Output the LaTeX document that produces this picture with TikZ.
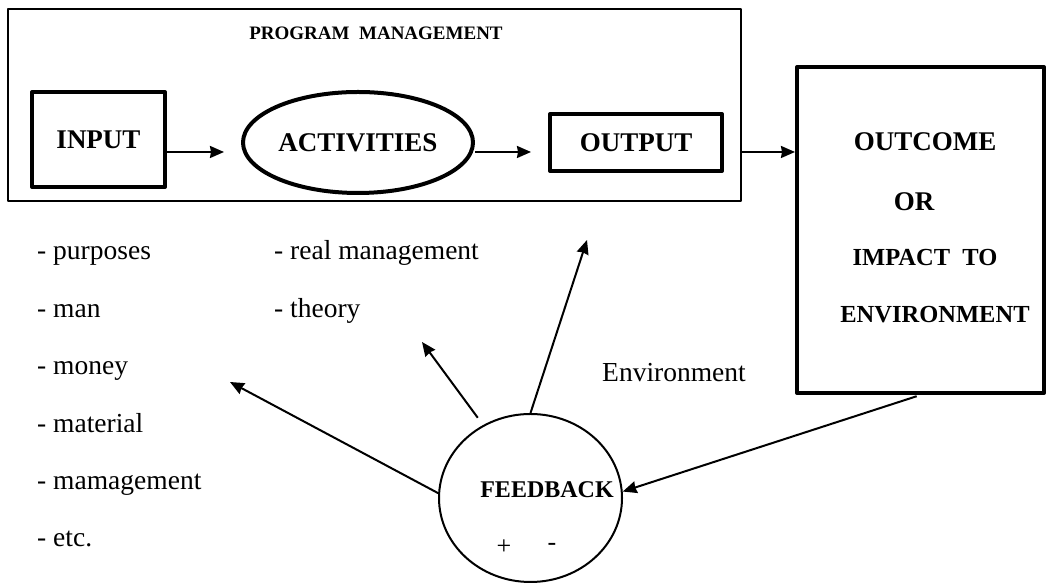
\documentclass[tikz,border=0pt]{standalone}
\usepackage{fontspec}
\setmainfont{Liberation Serif}
\usetikzlibrary{arrows.meta,shapes.geometric}
\begin{document}
\begin{tikzpicture}[x=1pt, y=1pt, line join=round, >={Stealth[length=14pt,width=12pt,inset=1pt]},
	box/.style={draw, line width=4pt, inner sep=0pt},
	big/.style={font=\fontsize{27}{30}\selectfont\bfseries, inner sep=0pt},
	small/.style={font=\fontsize{24.5}{28}\selectfont\bfseries, inner sep=0pt},
	item/.style={font=\fontsize{27.5}{30}\selectfont, anchor=mid west, inner sep=0pt},
	arr/.style={->, line width=2pt}]
	\useasboundingbox (0,0) rectangle (1047,585);
	% program management
	\node[draw, line width=2pt, minimum width=733, minimum height=192] (prog) at (374.5,480) {};
	\node[font=\fontsize{19}{22}\selectfont\bfseries, inner sep=0pt] (progtitle) at (376,552) {PROGRAM\ \ MANAGEMENT};
	\node[box, big, minimum width=133, minimum height=95] (input) at (98.5,445.5) {INPUT};
	\node[box, big, ellipse, minimum width=230, minimum height=101] (act) at (358,442.5) {ACTIVITIES};
	\node[box, big, minimum width=172, minimum height=57] (output) at (636,442.5) {OUTPUT};
	% outcome
	\node[box, minimum width=247, minimum height=326] (outcome) at (920.5,355) {};
	\draw (925,443) node[big] (outtext) {OUTCOME}
	(914,383) node[big] (ortext) {OR}
	(925,327) node[small] (impact) {IMPACT\ \ TO}
	(935,270) node[small] (envtext) {ENVIRONMENT};
	% feedback
	\node[draw, ellipse, line width=2pt, minimum width=183, minimum height=168, inner sep=0pt] (fb) at (530.5,87) {};
	\draw (547,95) node[font=\fontsize{24}{28}\selectfont\bfseries, inner sep=0pt] (fbtext) {FEEDBACK}
	(504,38) node[font=\fontsize{26}{28}\selectfont, inner sep=0pt] (plus) {+}
	(552,38) node[font=\fontsize{26}{28}\selectfont, inner sep=0pt] (minus) {-}
	(674,212) node[font=\fontsize{27.5}{30}\selectfont, inner sep=0pt] (env) {Environment};
	% lists
	\draw (37,327.4) node[item] (purposes) {- purposes}
	(37,270) node[item] (man) {- man}
	(37,212.6) node[item] (money) {- money}
	(37,155.2) node[item] (material) {- material}
	(37,97.8) node[item] (mamagement) {- mamagement}
	(37,40.4) node[item] (etc) {- etc.}
	(274,327.4) node[item] (realman) {- real management}
	(274,270) node[item] (theory) {- theory};
	% arrows
	\coordinate (row) at (0,433);
	\coordinate (outtip) at (587,345);
	\coordinate (theorytip) at (422,243);
	\coordinate (moneytip) at (230,203);
	\draw[arr, shorten >=17pt] (input.east |- row) -- (act.west |- row);
	\draw[arr, shorten >=17pt] (act.east |- row) -- (output.west |- row);
	\draw[arr] (prog.east |- row) -- (outcome.west |- row);
	\draw[arr] (fb.north) -- (outtip);
	\draw[arr, shorten <=9pt] (fb.123) -- (theorytip);
	\draw[arr] (fb.177) -- (moneytip);
	\draw[arr, shorten <=4pt] (outcome.south) -- (fb.4);
\end{tikzpicture}
\end{document}
